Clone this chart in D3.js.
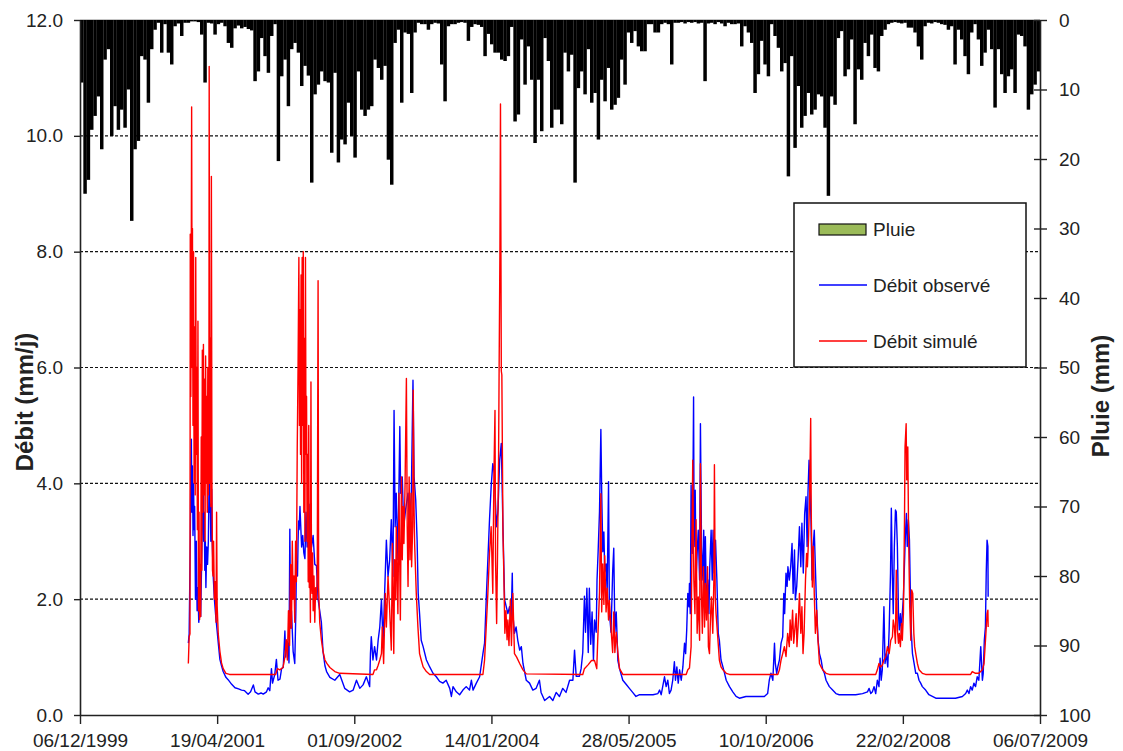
<!DOCTYPE html>
<html><head><meta charset="utf-8">
<script src="https://cdn.jsdelivr.net/npm/d3@7"></script>
<style>
body{margin:0;background:#fff}
svg{display:block}
text{font-family:"Liberation Sans",Arial,sans-serif;fill:#222}
</style></head>
<body><svg id="chart" width="1123" height="751"></svg>
<script>
// ---------------- DATA ----------------
const startDate = "06/12/1999";
const xTickLabels = ["06/12/1999","19/04/2001","01/09/2002","14/01/2004","28/05/2005","10/10/2006","22/02/2008","06/07/2009"];
const leftTicks = [0,2,4,6,8,10,12];
const rightTicks = [0,10,20,30,40,50,60,70,80,90,100];
const gridValues = [2,4,6,8,10];
const totalDays = 3500;
// rain (mm), one value per regular bin covering the period
const rain = [9,25,23,15.8,13.8,11,18.6,5.7,4.2,16.7,
12.4,15.8,12.9,15.5,10,28.9,18.6,17.4,5.2,5.7,
11.9,4.2,1.4,0.4,4.7,0.6,4.7,6.4,0.9,0.5,
2.3,0.4,0.4,0.2,0.2,0.3,2.1,9,0.4,0.5,
2.1,0.6,0.4,0.9,3.3,4,1.2,0.8,1.2,1.0,
1.3,1.5,8.8,7.4,2.6,5.2,7.6,2.3,0.6,20.3,
8.1,5.7,12.4,4.2,3.3,4.7,9.5,6.6,8,23.4,
10.7,9.3,7.4,8.8,9,19.1,7.6,20.5,17.2,17.9,
11.9,16.7,19.8,7.4,12.9,13.8,12.9,12.4,5.7,6.9,
8.6,6.6,20.1,23.7,3.3,1.4,11.9,
1.8,2,10.5,1.8,0.4,0.6,0.6,1.4,0.6,0.4,
0.5,6.4,11.7,0.9,0.6,0.6,0.4,0.3,0.4,3,
1.0,0.6,0.7,1.0,5.2,2.0,3.5,4.7,4.7,5.7,
5.9,5.2,1.0,14.6,13.6,2.8,9.3,3.8,8.6,17.7,
8.6,16,2.6,5.9,15.5,12.9,12.9,15,4.7,7.4,
5,23.4,9.8,7.4,10.7,4.2,11.9,10.5,17.2,8.6,
11.7,6.9,12.9,12.2,11.2,5.7,9.3,1.8,3.3,1.6,
3.8,4.5,4.5,0.6,0.6,1.8,1.8,0.6,0.4,0.6,
6.4,0.4,0.4,0.3,0.5,0.3,0.4,0.3,0.5,0.4,
8.8,0.5,0.4,0.6,0.3,0.5,0.9,0.4,0.6,
0.6,0.5,3.8,0.9,1.8,3.3,10.5,7.8,3.0,6.4,
8.1,0.6,2.3,4,7.4,6.2,22.5,5.2,18.4,9.5,
15.5,13.8,10.5,13.6,12.9,10.7,11,15.5,25.3,11,
12.2,2.6,1.6,8.1,7.1,2.8,15,7.1,8.6,3.3,
5.2,2.1,6.9,7.4,2.3,1.4,0.6,0.4,0.3,0.4,
0.5,0.4,1.1,1.1,1.8,3.8,5.7,0.9,0.4,0.5,
0.3,0.4,0.6,0.7,1.4,0.9,6.4,1.4,2.8,5.2,
7.8,1.8,0.6,2.8,6.6,4.7,1.4,4.2,12.6,4.2,
7.8,10.5,8.1,7.1,10.5,2.1,2.3,3.8,12.9,10.7,
9.3,7.4];
// observed discharge: [day since start, mm/j]
const observed = [[395,1.24],[398,1.4],[402,3.0],[404,4.2],[406,4.76],[408,3.5],[410,4.3],[412,3.1],[414,4.0],[416,3.2],[418,3.6],[421,2.0],[424,3.0],[427,1.8],[430,2.2],[433,1.6],[436,1.8],[440,1.7],[444,2.8],[447,3.6],[449,4.06],[451,3.0],[453,3.5],[455,2.5],[457,3.0],[459,2.2],[462,2.9],[465,2.6],[468,3.0],[471,4.2],[473,3.5],[475,3.64],[477,3.0],[480,3.9],[482,3.0],[486,2.37],[490,2.0],[495,1.7],[500,1.45],[505,1.2],[510,0.96],[516,0.85],[522,0.75],[532,0.65],[540,0.61],[553,0.53],[565,0.47],[578,0.45],[589,0.43],[600,0.42],[613,0.36],[622,0.40],[632,0.52],[638,0.40],[650,0.36],[660,0.38],[668,0.36],[680,0.40],[686,0.47],[692,0.42],[698,0.8],[702,0.55],[710,0.7],[716,0.96],[722,0.6],[729,0.62],[735,0.8],[741,0.82],[747,1.45],[750,1.0],[753,1.2],[759,1.24],[762,0.9],[765,3.21],[768,1.5],[771,1.8],[777,1.1],[783,0.89],[787,1.8],[789,2.65],[793,2.4],[795,3.0],[797,3.35],[799,3.2],[802,3.6],[804,3.35],[808,2.9],[812,3.1],[816,2.8],[820,2.7],[824,3.5],[828,2.9],[832,3.0],[835,3.64],[838,2.8],[844,2.9],[850,3.1],[856,2.6],[862,2.58],[868,2.0],[874,1.8],[880,1.6],[886,1.1],[893,0.85],[899,0.75],[911,0.65],[929,0.6],[947,0.7],
[965,0.46],[983,0.40],[996,0.43],[1008,0.60],[1020,0.46],[1032,0.52],[1044,0.66],[1056,0.49],[1059,1.06],[1062,1.35],[1068,0.95],[1074,1.18],[1081,0.95],[1087,1.29],[1093,1.52],[1099,1.99],[1105,1.24],[1111,2.16],[1117,3.02],[1123,2.39],[1129,2.68],[1135,3.37],[1141,2.39],[1145,5.26],[1149,3.25],[1153,3.83],[1159,2.68],[1166,4.98],[1169,3.83],[1175,4.11],[1180,3.25],[1187,3.54],[1196,3.83],[1202,3.25],[1208,3.83],[1214,5.78],[1218,4.11],[1224,3.71],[1229,3.02],[1233,2.10],[1238,1.75],[1244,1.29],[1251,1.18],[1263,0.95],[1275,0.83],[1287,0.72],[1299,0.66],[1311,0.58],[1323,0.55],[1335,0.60],[1348,0.46],[1354,0.32],[1360,0.49],[1372,0.40],[1384,0.35],[1396,0.43],[1408,0.49],[1420,0.43],[1427,0.60],[1433,0.43],[1445,0.55],[1457,0.66],[1469,1.06],[1475,1.24],[1481,1.99],[1487,2.68],[1493,3.37],[1499,3.94],[1505,4.34],[1511,4.17],[1518,3.25],[1524,3.54],[1530,4.40],[1536,4.69],[1542,3.25],[1548,1.99],[1554,1.87],[1560,1.75],[1566,1.87],[1572,1.64],[1576,2.45],[1578,1.75],[1584,1.41],[1590,1.52],[1596,1.29],[1603,1.12],[1609,1.18],[1615,0.89],[1627,0.60],[1639,0.55],[1651,0.43],[1663,0.46],[1675,0.60],
[1681,0.39],[1694,0.25],[1712,0.32],[1724,0.25],[1736,0.39],[1748,0.32],[1760,0.46],[1772,0.39],[1785,0.60],[1797,0.60],[1803,1.12],[1809,0.67],[1821,0.67],[1827,0.80],[1833,1.08],[1839,2.05],[1843,1.43],[1848,2.19],[1853,1.08],[1857,2.19],[1862,1.22],[1867,1.78],[1872,0.94],[1876,1.64],[1882,1.43],[1885,2.33],[1889,2.82],[1894,3.51],[1899,4.93],[1902,3.86],[1906,2.82],[1910,3.16],[1913,2.47],[1918,2.61],[1922,2.12],[1927,4.03],[1930,1.78],[1936,1.43],[1942,2.47],[1946,2.88],[1950,1.43],[1955,1.78],[1961,0.94],[1967,0.80],[1979,0.60],[1991,0.53],[2003,0.46],[2015,0.39],[2027,0.32],
[2040,0.35],[2064,0.35],[2089,0.35],[2107,0.37],[2113,0.43],[2119,0.35],[2131,0.66],[2137,0.49],[2143,0.60],[2149,0.37],[2155,0.43],[2161,0.60],[2167,0.92],[2171,0.60],[2176,0.83],[2181,0.55],[2186,0.78],[2192,0.60],[2198,0.83],[2204,1.24],[2208,1.06],[2212,1.47],[2216,2.10],[2220,1.87],[2222,2.27],[2225,1.75],[2228,3.97],[2232,2.79],[2234,3.48],[2237,5.49],[2239,2.91],[2243,3.88],[2246,2.33],[2250,2.79],[2254,3.19],[2259,2.33],[2262,5.03],[2266,2.91],[2271,2.33],[2274,3.19],[2278,2.04],[2280,3.08],[2284,1.87],[2289,2.33],[2293,1.75],[2296,2.56],[2301,3.19],[2305,2.33],[2308,3.19],[2312,2.45],[2317,3.02],[2322,2.33],[2327,1.41],[2331,1.29],[2337,0.95],[2344,0.83],[2350,0.72],[2356,0.60],[2368,0.49],[2380,0.40],[2392,0.32],[2404,0.29],[2428,0.32],[2453,0.32],[2477,0.32],[2495,0.32],[2507,0.37],[2513,0.60],[2519,0.72],[2526,0.60],[2532,1.24],[2535,0.89],[2540,0.72],[2544,0.83],[2550,0.95],[2556,1.24],[2562,1.35],[2566,2.10],[2569,1.75],[2574,2.45],[2578,2.22],[2581,2.56],[2586,2.33],[2591,2.56],[2596,2.96],[2600,2.10],[2605,2.85],[2608,1.99],[2613,2.22],[2618,2.68],[2623,3.25],[2628,2.56],[2632,3.31],[2637,2.45],[2642,3.48],[2647,3.77],[2651,2.91],[2654,3.83],[2658,4.40],[2662,3.94],[2665,3.37],[2669,2.33],[2673,2.91],[2677,3.19],[2681,2.56],[2686,1.81],[2691,1.29],[2696,1.06],[2702,0.95],[2708,0.78],[2714,0.72],[2720,0.60],[2732,0.49],[2744,0.43],[2756,0.37],[2768,0.35],[2793,0.35],
[2828,0.35],[2853,0.37],[2871,0.40],[2877,0.46],[2883,0.37],[2889,0.40],[2895,0.49],[2901,0.37],[2907,0.60],[2913,0.49],[2917,0.98],[2921,0.60],[2925,0.78],[2931,1.87],[2935,0.89],[2940,1.06],[2945,0.83],[2950,1.47],[2955,2.45],[2958,3.57],[2962,2.33],[2965,1.75],[2969,2.91],[2973,3.54],[2976,3.51],[2980,2.91],[2984,1.75],[2987,1.47],[2991,1.75],[2995,1.41],[2998,1.75],[3002,2.04],[3006,2.62],[3009,3.08],[3013,3.48],[3016,2.91],[3020,3.37],[3024,3.02],[3027,2.22],[3031,1.41],[3035,1.06],[3041,0.89],[3047,0.72],[3053,0.72],[3059,0.60],[3065,0.55],[3071,0.49],[3083,0.43],[3095,0.35],[3120,0.29],[3144,0.29],[3168,0.29],[3192,0.29],[3217,0.32],[3229,0.37],[3235,0.43],[3241,0.37],[3247,0.49],[3253,0.43],[3259,0.55],[3265,0.49],[3271,0.66],[3277,0.60],[3284,1.18],[3290,0.60],[3293,0.72],[3297,1.29],[3301,1.52],[3304,2.45],[3307,3.02],[3310,2.91],[3311,2.04]];
// simulated discharge: [day since start, mm/j]
const simulated = [[395,0.89],[398,1.35],[401,1.4],[402,8.3],[404,5.5],[406,8.5],[407,10.5],[409,6.0],[410,8.4],[412,5.0],[414,8.0],[416,4.0],[418,6.7],[420,3.8],[422,7.9],[424,4.5],[426,6.0],[428,3.2],[430,6.8],[432,1.8],[434,3.5],[436,1.65],[438,2.6],[440,1.7],[442,4.8],[444,2.5],[446,6.3],[448,3.5],[450,6.4],[452,3.8],[454,5.8],[456,3.0],[458,6.2],[460,4.0],[462,5.5],[464,3.5],[466,6.0],[468,3.8],[470,5.0],[471,11.2],[473,4.0],[475,6.5],[477,3.6],[479,9.3],[481,4.0],[483,2.5],[485,2.4],[487,3.0],[490,2.0],[493,2.3],[496,1.6],[498,3.5],[500,1.9],[504,1.4],[510,1.1],[516,0.9],[522,0.8],[532,0.72],[545,0.70],[713,0.70],[720,0.8],[728,0.78],[740,0.82],[747,1.0],[752,1.3],[756,0.95],[760,1.8],[764,1.2],[768,2.6],[771,1.5],[774,3.0],[777,2.0],[780,2.4],[783,1.6],[786,3.0],[789,2.3],[792,4.6],[795,6.0],[798,7.9],[800,5.0],[802,7.0],[804,4.5],[806,7.6],[808,4.0],[810,7.9],[812,5.0],[814,8.0],[816,3.5],[818,6.5],[820,3.0],[822,7.9],[824,4.5],[826,5.5],[828,3.0],[830,4.5],[832,2.3],[834,5.0],[836,2.2],[838,3.0],[840,1.6],[842,5.75],[844,2.3],[846,2.1],[848,2.8],[850,1.8],[853,2.4],[856,1.6],[859,2.2],[862,2.0],[865,2.4],[868,7.5],[870,2.2],[874,1.6],[880,1.3],[886,1.1],[893,0.95],[900,0.89],[911,0.82],[929,0.75],[947,0.72],
[1068,0.70],[1074,0.78],[1081,0.78],[1087,0.86],[1093,0.95],[1099,1.06],[1102,1.52],[1107,0.89],[1113,2.10],[1117,1.52],[1123,2.39],[1129,1.81],[1135,1.12],[1139,2.96],[1144,1.06],[1147,2.68],[1151,1.99],[1153,3.25],[1159,1.75],[1163,3.83],[1168,1.64],[1172,4.11],[1175,2.68],[1178,3.60],[1181,2.96],[1185,3.94],[1190,5.81],[1193,3.25],[1196,2.22],[1200,4.11],[1203,2.68],[1207,3.83],[1209,2.56],[1213,3.25],[1215,5.61],[1218,3.54],[1220,2.96],[1226,2.10],[1232,1.52],[1238,1.06],[1244,0.95],[1251,0.83],[1263,0.75],[1275,0.70],[1469,0.70],[1475,0.95],[1481,1.52],[1487,2.10],[1493,2.79],[1499,3.25],[1505,2.10],[1509,4.11],[1513,5.26],[1515,2.68],[1519,1.58],[1522,2.68],[1526,4.40],[1528,5.94],[1531,8.02],[1533,10.55],[1536,5.94],[1538,5.87],[1542,3.14],[1545,2.5],[1549,1.41],[1553,1.8],[1557,1.3],[1560,1.64],[1564,1.2],[1569,1.99],[1573,1.2],[1578,2.10],[1584,1.06],[1592,1.0],[1603,0.89],[1615,0.78],[1627,0.71],[1833,0.70],
[1839,0.80],[1853,0.87],[1865,0.94],[1876,0.94],[1884,0.80],[1887,1.22],[1894,2.12],[1899,3.82],[1902,1.78],[1906,2.61],[1910,1.91],[1913,2.75],[1918,1.78],[1922,2.19],[1927,1.64],[1930,1.98],[1936,1.50],[1942,1.08],[1946,1.78],[1950,1.08],[1955,1.43],[1961,1.08],[1967,0.80],[1979,0.70],[2210,0.70],
[2216,0.78],[2222,0.81],[2228,1.18],[2231,2.91],[2234,4.40],[2238,2.33],[2242,1.75],[2246,3.37],[2250,1.41],[2254,2.04],[2259,1.29],[2262,4.34],[2266,2.04],[2269,1.41],[2273,2.56],[2277,1.52],[2280,2.27],[2284,1.64],[2288,2.56],[2291,1.18],[2295,1.06],[2299,1.75],[2302,2.04],[2307,1.41],[2311,2.33],[2313,4.32],[2316,2.04],[2319,1.75],[2325,1.35],[2331,0.95],[2337,0.83],[2344,0.78],[2356,0.72],[2368,0.70],[2544,0.70],
[2550,0.78],[2556,0.95],[2562,1.06],[2568,1.18],[2574,1.01],[2580,1.41],[2586,1.18],[2589,1.64],[2593,1.29],[2598,1.81],[2602,1.24],[2605,1.41],[2611,1.75],[2614,1.18],[2618,1.52],[2623,2.10],[2628,1.41],[2632,1.87],[2636,1.06],[2640,1.41],[2645,2.33],[2649,2.79],[2652,2.56],[2656,3.02],[2660,3.77],[2664,5.12],[2666,3.48],[2670,2.21],[2674,2.91],[2677,2.10],[2681,1.41],[2686,1.81],[2689,1.41],[2696,0.89],[2702,0.83],[2708,0.78],[2720,0.72],[2732,0.70],[2901,0.70],
[2907,0.78],[2913,0.89],[2919,0.83],[2925,0.86],[2931,0.95],[2938,1.01],[2944,1.18],[2950,1.06],[2956,1.29],[2962,1.35],[2965,1.64],[2969,1.52],[2973,1.24],[2976,2.50],[2980,1.47],[2984,1.24],[2987,1.41],[2991,1.18],[2995,1.58],[2998,1.29],[3002,1.75],[3006,3.37],[3008,4.63],[3012,5.03],[3014,4.06],[3018,4.63],[3021,3.08],[3025,1.87],[3029,1.29],[3032,2.16],[3036,2.10],[3040,1.41],[3043,1.18],[3047,1.06],[3053,0.89],[3059,0.78],[3071,0.72],[3083,0.70],[3247,0.70],[3253,0.75],[3265,0.72],[3277,0.72],[3290,0.78],[3296,0.89],[3302,1.35],[3307,1.75],[3310,1.81],[3311,1.52]];
const legendLabels = ["Pluie","Débit observé","Débit simulé"];
const colors = {rain:"#000000", swatch:"#9BBB59", obs:"#0000FF", sim:"#FF0000"};

// ---------------- CHART ----------------
const W = 1123, H = 751;
const M = {left:80, right:1040, top:20, bottom:715};
const svg = d3.select("#chart");
const parse = d3.utcParse("%d/%m/%Y");
const t0 = parse(startDate);
const dayToDate = d => new Date(t0.getTime() + d*864e5);

const x = d3.scaleUtc().domain([t0, dayToDate(totalDays)]).range([M.left, M.right]);
const yL = d3.scaleLinear().domain([0,12]).range([M.bottom, M.top]);
const yR = d3.scaleLinear().domain([0,100]).range([M.top, M.bottom]);

// gridlines
svg.append("g").selectAll("line").data(gridValues).join("line")
  .attr("x1", M.left).attr("x2", M.right)
  .attr("y1", d => yL(d)).attr("y2", d => yL(d))
  .attr("stroke", "#111").attr("stroke-width", 1.2).attr("stroke-dasharray", "3,2");
// top line
svg.append("line").attr("x1", M.left).attr("x2", M.right).attr("y1", yL(12)).attr("y2", yL(12))
  .attr("stroke", "#888").attr("stroke-width", 1);

// rain bars
const step = totalDays / rain.length;
svg.append("g").selectAll("rect").data(rain).join("rect")
  .attr("x", (d,i) => x(dayToDate(i*step)))
  .attr("width", (d,i) => x(dayToDate((i+1)*step)) - x(dayToDate(i*step)) + 0.15)
  .attr("y", yR(0))
  .attr("height", d => yR(d) - yR(0))
  .attr("fill", colors.rain);

// lines
const line = d3.line().x(d => x(dayToDate(d[0]))).y(d => yL(d[1]));
svg.append("path").attr("d", line(observed)).attr("fill","none")
  .attr("stroke", colors.obs).attr("stroke-width", 1.4).attr("stroke-linejoin","round");
svg.append("path").attr("d", line(simulated)).attr("fill","none")
  .attr("stroke", colors.sim).attr("stroke-width", 1.4).attr("stroke-linejoin","round");

// axes
const fs = "19px";
const gL = svg.append("g").attr("transform", `translate(${M.left},0)`)
  .call(d3.axisLeft(yL).tickValues(leftTicks).tickFormat(d3.format(".1f")).tickSize(6).tickSizeOuter(0).tickPadding(11));
const gR = svg.append("g").attr("transform", `translate(${M.right},0)`)
  .call(d3.axisRight(yR).tickValues(rightTicks).tickSize(7).tickSizeOuter(0).tickPadding(12));
gR.selectAll(".tick line").attr("x1", -6);
const xTicks = xTickLabels.map(parse);
const gB = svg.append("g").attr("transform", `translate(0,${M.bottom})`)
  .call(d3.axisBottom(x).tickValues(xTicks).tickFormat(d3.utcFormat("%d/%m/%Y")).tickSize(9).tickSizeOuter(0).tickPadding(10));
[gL,gR,gB].forEach(g => {
  g.select(".domain").attr("stroke","#222").attr("stroke-width",1.6);
  g.selectAll(".tick line").attr("stroke","#222").attr("stroke-width",1.4);
  g.selectAll(".tick text").attr("font-size", fs).attr("fill","#222")
    .attr("font-family",'"Liberation Sans",Arial,sans-serif');
});

// axis titles
svg.append("text").attr("transform","translate(33,402) rotate(-90)")
  .attr("text-anchor","middle").attr("font-size","24px").attr("font-weight","bold")
  .attr("fill","#111").text("Débit (mm/j)");
svg.append("text").attr("transform","translate(1109,396) rotate(-90)")
  .attr("text-anchor","middle").attr("font-size","24px").attr("font-weight","bold")
  .attr("fill","#111").text("Pluie (mm)");

// legend
const lg = svg.append("g");
lg.append("rect").attr("x",794).attr("y",203).attr("width",232).attr("height",164)
  .attr("fill","#fff").attr("stroke","#111").attr("stroke-width",1.5);
lg.append("rect").attr("x",819).attr("y",224).attr("width",47).attr("height",11)
  .attr("fill",colors.swatch).attr("stroke","#111").attr("stroke-width",1.2);
lg.append("line").attr("x1",819).attr("x2",867).attr("y1",285).attr("y2",285)
  .attr("stroke",colors.obs).attr("stroke-width",1.6);
lg.append("line").attr("x1",819).attr("x2",867).attr("y1",341).attr("y2",341)
  .attr("stroke",colors.sim).attr("stroke-width",1.6);
lg.selectAll("text.lab").data(legendLabels).join("text").attr("class","lab")
  .attr("x",873).attr("y",(d,i)=>[229,285,341][i]).attr("dy","0.35em")
  .attr("font-size","19px").attr("fill","#222").text(d=>d);
</script>
</body></html>
